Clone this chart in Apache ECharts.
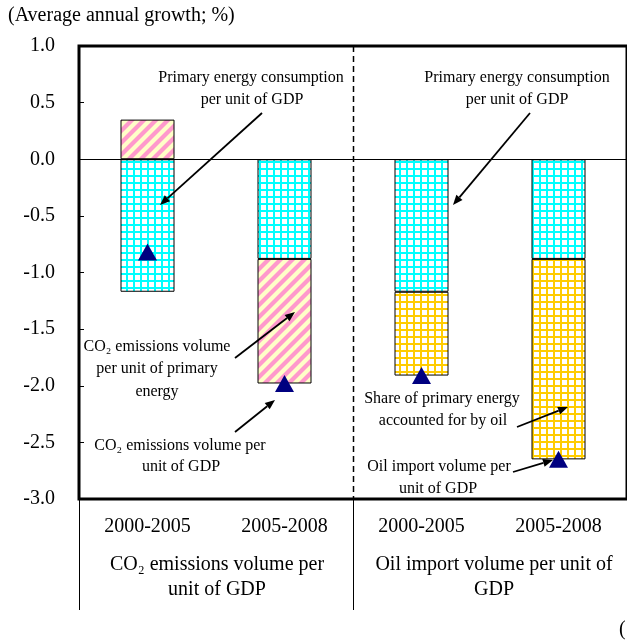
<!DOCTYPE html>
<html>
<head>
<meta charset="utf-8">
<script src="https://cdn.jsdelivr.net/npm/echarts@6/dist/echarts.min.js"></script>
<style>
  html, body { margin: 0; padding: 0; background: #fff; }
  #chart { width: 627px; height: 643px; }
</style>
</head>
<body>
<div id="chart"></div>
<script>
// Periods shown on the category axis
const categories = ['2000-2005', '2005-2008', '2000-2005', '2005-2008'];
// Contribution of primary energy consumption per unit of GDP (%)
const energyPerGdp = [-1.17, -0.88, -1.17, -0.88];
// Contribution of CO2 emissions volume per unit of primary energy (%)
const co2PerEnergy = [0.35, -1.10, '-', '-'];
// Contribution of the share of primary energy accounted for by oil (%)
const oilShare = ['-', '-', -0.74, -1.77];
// Resulting growth of CO2 emissions / oil import volume per unit of GDP (%)
const totals = [-0.82, -1.98, -1.91, -2.65];
// Value axis ticks
const yTickLabels = ['-3.0', '-2.5', '-2.0', '-1.5', '-1.0', '-0.5', '0.0', '0.5', '1.0'];
const yMin = -3, yMax = 1, yStep = 0.5;

const SERIF = "'Liberation Serif', 'Times New Roman', serif";

// White cells separated by coloured grid lines
function gridTile(lineColor) {
  const s = 7, c = document.createElement('canvas');
  c.width = s; c.height = s;
  const g = c.getContext('2d');
  g.fillStyle = '#ffffff'; g.fillRect(0, 0, s, s);
  g.fillStyle = lineColor;
  g.fillRect(0, 0, s, 2);
  g.fillRect(0, 0, 2, s);
  return { image: c, repeat: 'repeat' };
}

// Pink "/" stripes on pale yellow
function stripeTile() {
  const s = 12, c = document.createElement('canvas');
  c.width = s; c.height = s;
  const g = c.getContext('2d');
  g.fillStyle = '#FFFFC8'; g.fillRect(0, 0, s, s);
  g.strokeStyle = '#FF99CC'; g.lineWidth = 4.2;
  for (const k of [0, s, 2 * s]) {
    g.beginPath(); g.moveTo(k + 3, -3); g.lineTo(k - s - 3, s + 3); g.stroke();
  }
  return { image: c, repeat: 'repeat' };
}

function arrow(x1, y1, x2, y2) {
  const ang = Math.atan2(y2 - y1, x2 - x1);
  const L = 10, W = 4;
  const bx = x2 - L * Math.cos(ang), by = y2 - L * Math.sin(ang);
  const px = -Math.sin(ang) * W, py = Math.cos(ang) * W;
  return [
    { type: 'line', silent: true, z: 100, shape: { x1, y1, x2: bx, y2: by }, style: { stroke: '#000', lineWidth: 1.8 } },
    { type: 'polygon', silent: true, z: 100, shape: { points: [[x2, y2], [bx + px, by + py], [bx - px, by - py]] }, style: { fill: '#000' } }
  ];
}

function note(x, y, text, size, align) {
  return {
    type: 'text', silent: true, z: 100, x, y,
    style: { text, font: (size || 16) + 'px ' + SERIF, fill: '#000', align: align || 'center', verticalAlign: 'middle' }
  };
}

const chart = echarts.init(document.getElementById('chart'), null, { renderer: 'canvas' });

chart.setOption({
  animation: false,
  backgroundColor: '#fff',
  grid: { left: 79, top: 46, width: 554, height: 453, show: true, borderColor: '#000', borderWidth: 3, backgroundColor: 'transparent' },
  xAxis: {
    type: 'category', data: categories, position: 'bottom',
    axisLine: { show: false, onZero: false },
    axisTick: { show: true, interval: (i) => i === 0 || i === 2, length: 111, lineStyle: { color: '#000', width: 1 } },
    splitLine: { show: false },
    axisLabel: { color: '#000', fontFamily: SERIF, fontSize: 20, margin: 18, interval: 0 }
  },
  yAxis: {
    type: 'value', min: yMin, max: yMax, interval: yStep,
    axisLine: { show: false },
    axisTick: { show: true, inside: true, length: 5, lineStyle: { color: '#000', width: 1 } },
    splitLine: { show: false },
    axisLabel: {
      color: '#000', fontFamily: SERIF, fontSize: 20, margin: 24,
      formatter: (v) => yTickLabels[Math.round((v - yMin) / yStep)]
    }
  },
  series: [
    {
      name: 'Primary energy consumption per unit of GDP', type: 'bar', stack: 'total',
      data: energyPerGdp, barWidth: 54,
      itemStyle: { color: gridTile('#00FFFF'), borderColor: '#000', borderWidth: 1 },
      markLine: {
        silent: true, symbol: 'none', label: { show: false },
        lineStyle: { color: '#000', width: 1, type: 'solid' },
        data: [{ yAxis: 0 }]
      }
    },
    {
      name: 'CO₂ emissions volume per unit of primary energy', type: 'bar', stack: 'total',
      data: co2PerEnergy, barWidth: 54,
      itemStyle: { color: stripeTile(), borderColor: '#000', borderWidth: 1 }
    },
    {
      name: 'Share of primary energy accounted for by oil', type: 'bar', stack: 'total',
      data: oilShare, barWidth: 54,
      itemStyle: { color: gridTile('#FFCC00'), borderColor: '#000', borderWidth: 1 }
    },
    {
      name: 'Per unit of GDP', type: 'scatter', data: totals, z: 5,
      symbol: 'triangle', symbolSize: [19, 17],
      itemStyle: { color: '#000080', opacity: 1 }
    }
  ]
});

// Dashed divider between the two groups, placed halfway between categories 2 and 3
const xa = chart.convertToPixel({ xAxisIndex: 0 }, 1);
const xb = chart.convertToPixel({ xAxisIndex: 0 }, 2);
const xDiv = Math.round((xa + xb) / 2) + 0.5;
const yTop = chart.convertToPixel({ yAxisIndex: 0 }, yMax);
const yBot = chart.convertToPixel({ yAxisIndex: 0 }, yMin);

chart.setOption({
  graphic: [
    {
      type: 'line', silent: true, z: 50,
      shape: { x1: xDiv, y1: yTop, x2: xDiv, y2: yBot },
      style: { stroke: '#000', lineWidth: 1.5, lineDash: [6, 4] }
    },
    note(8, 16, '(Average annual growth; %)', 20, 'left'),
    note(251, 78, 'Primary energy consumption'),
    note(252, 100, 'per unit of GDP'),
    ...arrow(262, 113, 160, 205),
    note(517, 78, 'Primary energy consumption'),
    note(517, 100, 'per unit of GDP'),
    ...arrow(530, 113, 453, 205),
    note(157, 347, 'CO₂ emissions volume'),
    note(157, 369, 'per unit of primary'),
    note(157, 392, 'energy'),
    ...arrow(235, 358, 295, 312),
    note(180, 446, 'CO₂ emissions volume per'),
    note(181, 467, 'unit of GDP'),
    ...arrow(235, 432, 275, 400),
    note(442, 399, 'Share of primary energy'),
    note(443, 421, 'accounted for by oil'),
    ...arrow(517, 427, 568, 407),
    note(439, 467, 'Oil import volume per'),
    note(438, 489, 'unit of GDP'),
    ...arrow(513, 472, 553, 460),
    note(217, 565, 'CO₂ emissions volume per', 20),
    note(217, 590, 'unit of GDP', 20),
    note(494, 565, 'Oil import volume per unit of', 20),
    note(494, 590, 'GDP', 20),
    note(619, 630, '(', 20, 'left')
  ]
});
</script>
</body>
</html>
